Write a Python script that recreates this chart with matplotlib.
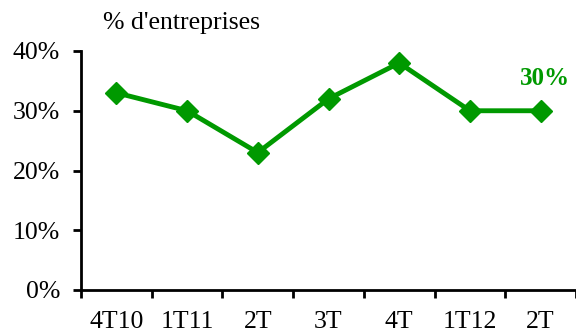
import matplotlib
matplotlib.use("Agg")
import matplotlib.pyplot as plt
import numpy as np

plt.rcParams['font.family'] = ['Liberation Serif', 'DejaVu Serif']

# trimestres et part d'entreprises (%)
categories = ['4T10', '1T11', '2T', '3T', '4T', '1T12', '2T']
valeurs = [33, 30, 23, 32, 38, 30, 30]
dernier_label = '30%'

vert = '#009900'

fig = plt.figure(figsize=(5.76, 3.32), dpi=100)
ax = fig.add_axes([81/576, 1 - 290/332, 1 - 81/576, (290 - 51)/332])

x = np.arange(len(categories))
ax.plot(x, valeurs, color=vert, lw=3.5, marker='D', ms=11, clip_on=False, zorder=3)

ax.set_xlim(-0.5, len(categories) - 0.5)
ax.set_ylim(0, 40)
ax.set_yticks([0, 10, 20, 30, 40])
ax.set_yticklabels(['0%', '10%', '20%', '30%', '40%'])

ax.set_xticks(x)
ax.set_xticklabels(categories)
ax.set_xticks(np.arange(-0.5, len(categories)), minor=True)
ax.tick_params(axis='x', which='major', length=0, pad=15, labelsize=18.5)
ax.tick_params(axis='x', which='minor', length=6, width=2, direction='out')
ax.tick_params(axis='y', length=6, width=2, direction='out', labelsize=18.5, pad=9)

for s in ['top', 'right']:
    ax.spines[s].set_visible(False)
for s in ['left', 'bottom']:
    ax.spines[s].set_linewidth(2)

ax.annotate(dernier_label, (x[-1], valeurs[-1]), xytext=(3, 23), textcoords='offset points',
            ha='center', va='center', color=vert, fontsize=18, fontweight='bold')

fig.text(103/576, 1 - 23/332, "% d'entreprises", fontsize=18.5, va='center', ha='left')

fig.savefig('out.png', dpi=100)
